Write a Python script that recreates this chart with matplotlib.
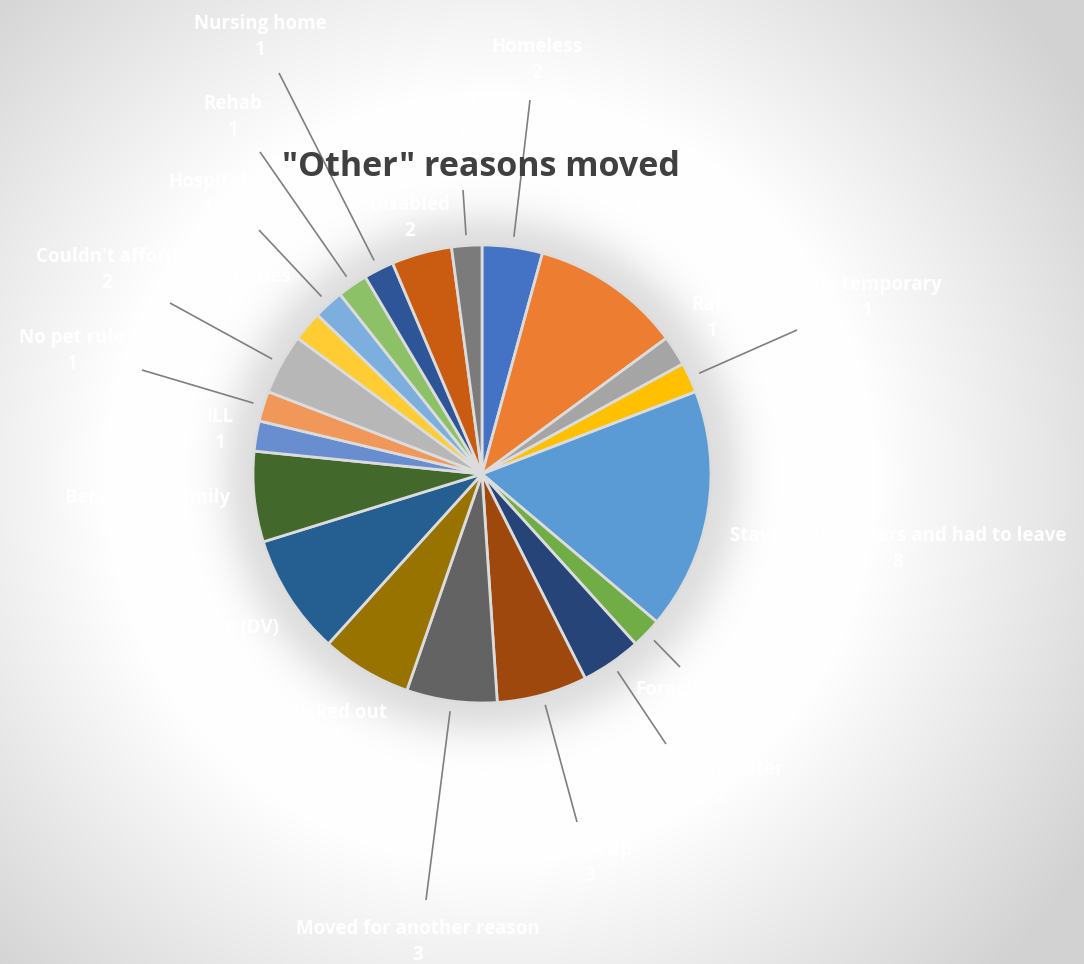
import numpy as np
import matplotlib
matplotlib.use("Agg")
import matplotlib.pyplot as plt

# ---------------- data ----------------
reasons = ["Homeless", "Relocated", "Rats", "Only temporary",
           "Stayed with others and had to leave", "Foreclosure", "No hot water",
           "Broke up", "Moved for another reason", "Kicked out", "Abuse (DV)",
           "Because of family", "ILL", "No pet rule", "Couldn't afford",
           "Safety issues", "Hospital", "Rehab", "Nursing home", "Disabled", "Jail"]
counts = [2, 5, 1, 1, 8, 1, 2, 3, 3, 3, 4, 3, 1, 1, 2, 1, 1, 1, 1, 2, 1]
colors = ["#4472C4", "#ED7D31", "#A5A5A5", "#FFC000", "#5B9BD5", "#70AD47",
          "#264478", "#9E480E", "#636363", "#997300", "#255E91", "#43682B",
          "#698ED0", "#F1975A", "#B7B7B7", "#FFCD33", "#7CAFDD", "#8CC168",
          "#2E5597", "#CA5C12", "#7B7B7B"]
title = '"Other" reasons moved'

# ---------------- layout (pixels from top-left) ----------------
W, H = 1084, 964
CX, CY, R = 482, 474, 229
label_pos = [(537, 60), (682, 222), (712, 318), (867, 298), (898, 549),
             (690, 703), (722, 783), (590, 863), (418, 942), (337, 726),
             (228, 641), (148, 511), (220, 430), (72, 351), (107, 270),
             (230, 290), (208, 195), (233, 117), (260, 37), (410, 218),
             (462, 118)]
leader_end = [(530, 100), None, None, (797, 330), None,
              (680, 667), (666, 744), (577, 822), (426, 900), None,
              None, None, None, (142, 370), (170, 303),
              None, (259, 230), (260, 152), (279, 73), None,
              (463, 190)]

plt.rcParams['font.family'] = ['Open Sans', 'DejaVu Sans']

fig = plt.figure(figsize=(W / 100, H / 100), dpi=100)
ax = fig.add_axes([0, 0, 1, 1])

def Y(py):
    return H - py

# background: radial gradient + soft pie shadow
yy, xx = np.mgrid[0:H, 0:W]
dist = np.hypot(xx - 490, yy - 478)
g = 255 - 45 * np.clip((dist - 380) / 330, 0, 1)
rp = np.hypot(xx - CX, yy - CY) - R
shadow = np.where(rp > -5, 32 * np.exp(-(np.clip(rp, 0, None) / 36) ** 2), 0)
g = np.clip(g - shadow, 0, 255)
bg = np.dstack([g, g, g]).astype(np.uint8)
ax.imshow(bg, extent=(0, W, 0, H), origin='upper', zorder=0, aspect='auto')

wedges, _ = ax.pie(counts, colors=colors, startangle=90, counterclock=False,
                   radius=R, center=(CX, Y(CY)),
                   wedgeprops=dict(edgecolor='#dcdcdc', linewidth=2.0))
for w in wedges:
    w.set_zorder(2)

total = sum(counts)
cum = np.cumsum([0] + counts[:-1])
for i, (name, val) in enumerate(zip(reasons, counts)):
    mid = (cum[i] + val / 2) / total * 2 * np.pi
    lx, ly = label_pos[i]
    if leader_end[i] is not None:
        sx = CX + 1.045 * R * np.sin(mid)
        sy = CY - 1.045 * R * np.cos(mid)
        ex, ey = leader_end[i]
        ax.plot([sx, ex], [Y(sy), Y(ey)], color='#7f7f7f', lw=1.2, zorder=3,
                solid_capstyle='butt')
    ax.text(lx, Y(ly), f"{name}\n{val}", color='white', fontsize=13.5,
            fontweight='bold', ha='center', va='center', linespacing=1.4,
            zorder=4)

ax.text(481, Y(167), title, fontsize=24.5, fontweight='bold', color='#404040',
        ha='center', va='center', zorder=6)

ax.set_xlim(0, W)
ax.set_ylim(0, H)
ax.set_aspect('auto')
ax.axis('off')
fig.savefig('out.png', dpi=100)
